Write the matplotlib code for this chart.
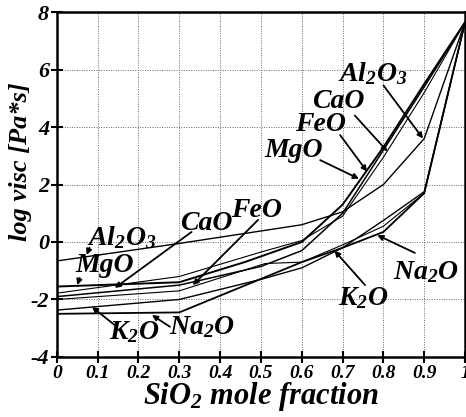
import matplotlib.pyplot as plt

plt.rcParams['font.family'] = 'Liberation Serif'
plt.rcParams['font.weight'] = 'bold'
plt.rcParams['font.style'] = 'italic'
plt.rcParams['axes.labelweight'] = 'bold'
plt.rcParams['mathtext.fontset'] = 'custom'
plt.rcParams['mathtext.rm'] = 'Liberation Serif:bold:italic'
plt.rcParams['mathtext.it'] = 'Liberation Serif:bold:italic'
plt.rcParams['mathtext.bf'] = 'Liberation Serif:bold:italic'
plt.rcParams['axes.unicode_minus'] = False

# SiO2 mole fraction vs log viscosity, one curve per added oxide
x_al2o3 = [0, 0.3, 0.6, 0.7, 0.8, 0.9, 1.0]
y_al2o3 = [-0.66, -0.05, 0.6, 1.05, 2.0, 3.6, 7.65]

x_mgo = [0, 0.3, 0.46, 0.6, 0.7, 0.8, 0.9, 1.0]
y_mgo = [-1.55, -1.4, -0.7, 0.0, 1.3, 3.3, 5.5, 7.65]

x_cao = [0, 0.3, 0.5, 0.6, 0.7, 0.8, 0.9, 1.0]
y_cao = [-1.78, -1.2, -0.35, 0.05, 0.9, 2.95, 5.2, 7.65]

x_feo = [0, 0.3, 0.5, 0.6, 0.7, 0.8, 0.9, 1.0]
y_feo = [-1.9, -1.5, -0.85, -0.3, 1.0, 3.2, 5.4, 7.65]

x_mix = [0, 0.3, 0.51, 0.6, 0.7, 0.8, 0.9, 1.0]
y_mix = [-2.0, -1.7, -0.75, -0.7, -0.1, 0.55, 1.7, 7.65]

x_k2o = [0, 0.3, 0.5, 0.6, 0.7, 0.8, 0.9, 1.0]
y_k2o = [-2.37, -2.0, -1.3, -0.9, -0.2, 0.75, 1.75, 7.65]

x_na2o = [0, 0.3, 0.6, 0.7, 0.8, 0.9, 1.0]
y_na2o = [-2.5, -2.45, -0.7, -0.2, 0.35, 1.7, 7.65]

x_ticks = [0, 0.1, 0.2, 0.3, 0.4, 0.5, 0.6, 0.7, 0.8, 0.9, 1]
x_ticklabels = ['0', '0.1', '0.2', '0.3', '0.4', '0.5', '0.6', '0.7', '0.8', '0.9', '1']
y_ticks = [-4, -2, 0, 2, 4, 6, 8]

fig = plt.figure(figsize=(4.66, 4.17), dpi=100)
ax = fig.add_axes([0.122, 0.144, 0.876, 0.827])

ax.plot(x_al2o3, y_al2o3, color='k', lw=1.0)
ax.plot(x_mgo, y_mgo, color='k', lw=1.4)
ax.plot(x_cao, y_cao, color='k', lw=0.8)
ax.plot(x_feo, y_feo, color='k', lw=1.1)
ax.plot(x_mix, y_mix, color='k', lw=0.8)
ax.plot(x_k2o, y_k2o, color='k', lw=1.0)
ax.plot(x_na2o, y_na2o, color='k', lw=1.3)

ax.set_xlim(0, 1)
ax.set_ylim(-4, 8)
ax.set_xticks(x_ticks)
ax.set_xticklabels(x_ticklabels)
ax.set_yticks(y_ticks)
ax.tick_params(axis='x', direction='inout', length=9, width=1.5, labelsize=14, pad=1)
ax.tick_params(axis='y', direction='inout', length=9, width=1.5, labelsize=16, pad=1)
ax.grid(True, color='#666666', linestyle=(0, (1, 1.5)), lw=0.7)
for s in ax.spines.values():
    s.set_linewidth(1.8)

ax.set_xlabel(r'SiO$_2$ mole fraction', fontsize=22)
ax.xaxis.set_label_coords(0.5, -0.066)
ax.set_ylabel('log visc [Pa*s]', fontsize=19)
ax.yaxis.set_label_coords(-0.06, 0.565)

labels = [
    (r'Al$_2$O$_3$', 0.775, 5.85, (0.80, 5.45), (0.897, 3.6)),
    ('CaO', 0.69, 4.9, (0.73, 4.4), (0.81, 3.15)),
    ('FeO', 0.647, 4.1, (0.694, 3.72), (0.76, 2.45)),
    ('MgO', 0.58, 3.17, (0.645, 2.85), (0.74, 2.2)),
    (r'K$_2$O', 0.75, -1.95, (0.755, -1.5), (0.68, -0.3)),
    (r'Na$_2$O', 0.905, -1.05, (0.877, -0.38), (0.785, 0.24)),
    (r'Al$_2$O$_3$', 0.16, 0.15, (0.08, -0.2), (0.073, -0.45)),
    ('MgO', 0.118, -0.83, (0.056, -1.25), (0.05, -1.5)),
    ('CaO', 0.365, 0.66, (0.33, 0.35), (0.142, -1.6)),
    ('FeO', 0.49, 1.1, (0.493, 0.77), (0.333, -1.5)),
    (r'K$_2$O', 0.19, -3.15, (0.147, -2.95), (0.086, -2.26)),
    (r'Na$_2$O', 0.355, -2.95, (0.277, -2.95), (0.233, -2.54)),
]
for txt, tx, ty, start, end in labels:
    ax.text(tx, ty, txt, fontsize=20, ha='center', va='center')
    ax.annotate('', xy=end, xytext=start,
                arrowprops=dict(arrowstyle='-|>', color='k', lw=1.3,
                                mutation_scale=8, shrinkA=0, shrinkB=0))

fig.savefig('out.png', dpi=100)
